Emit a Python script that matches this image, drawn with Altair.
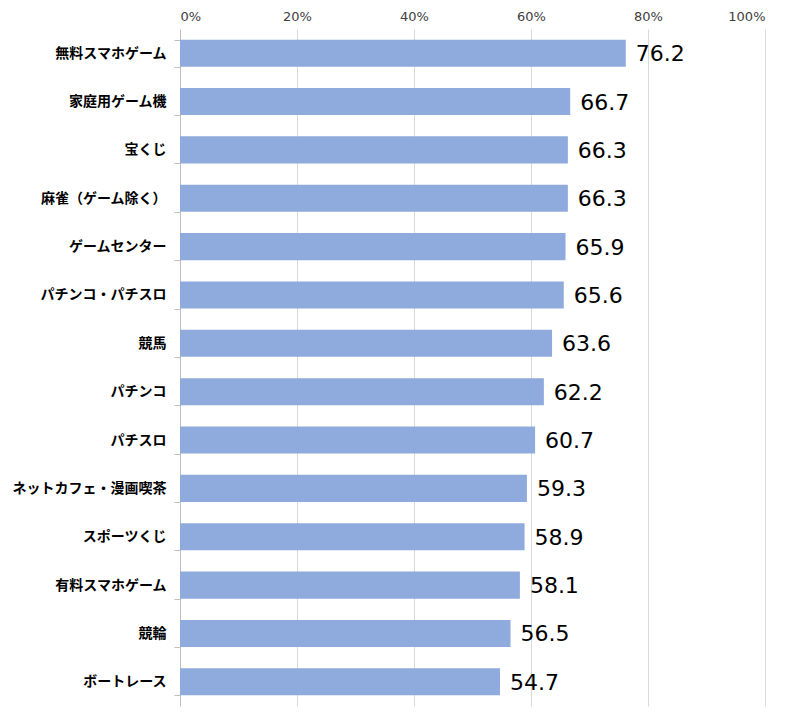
import altair as alt
import pandas as pd

categories = ["無料スマホゲーム", "家庭用ゲーム機", "宝くじ", "麻雀（ゲーム除く）", "ゲームセンター",
              "パチンコ・パチスロ", "競馬", "パチンコ", "パチスロ", "ネットカフェ・漫画喫茶",
              "スポーツくじ", "有料スマホゲーム", "競輪", "ボートレース"]
values = [76.2, 66.7, 66.3, 66.3, 65.9, 65.6, 63.6, 62.2, 60.7, 59.3, 58.9, 58.1, 56.5, 54.7]

df = pd.DataFrame({"cat": categories, "val": values, "frac": [v / 100 for v in values]})

y = alt.Y("cat:N", sort=categories, title=None,
          scale=alt.Scale(paddingInner=0.44, paddingOuter=0.22),
          axis=alt.Axis(labelFont="Noto Sans CJK JP", labelFontWeight="bold", labelFontSize=14,
                        labelColor="#000000", labelPadding=8, labelLimit=200, domainColor="#bfbfbf",
                        tickColor="#bfbfbf", tickSize=6, tickBand="extent", grid=False))
x = alt.X("frac:Q", title=None,
          scale=alt.Scale(domain=[0, 1]),
          axis=alt.Axis(orient="top", format=".0%", values=[0, 0.2, 0.4, 0.6, 0.8, 1.0],
                        labelFont="DejaVu Sans", labelFontSize=13, labelColor="#404040",
                        domain=False, ticks=False, gridColor="#d9d9d9", labelPadding=6))

bars = alt.Chart(df).mark_bar(color="#8FAADC").encode(x=x, y=y)
text = alt.Chart(df).mark_text(align="left", dx=10, dy=1, fontSize=22, font="DejaVu Sans",
                               color="#000000").encode(
    x="frac:Q", y=alt.Y("cat:N", sort=categories), text=alt.Text("val:Q", format=".1f"))

chart = (bars + text).properties(
    width=585, height=677,
    autosize=alt.AutoSizeParams(type="none"),
    padding={"left": 172, "top": 21, "right": 8, "bottom": 8},
).configure_view(stroke=None)

chart.save("out.html", embed_options={"renderer": "svg", "actions": False})
